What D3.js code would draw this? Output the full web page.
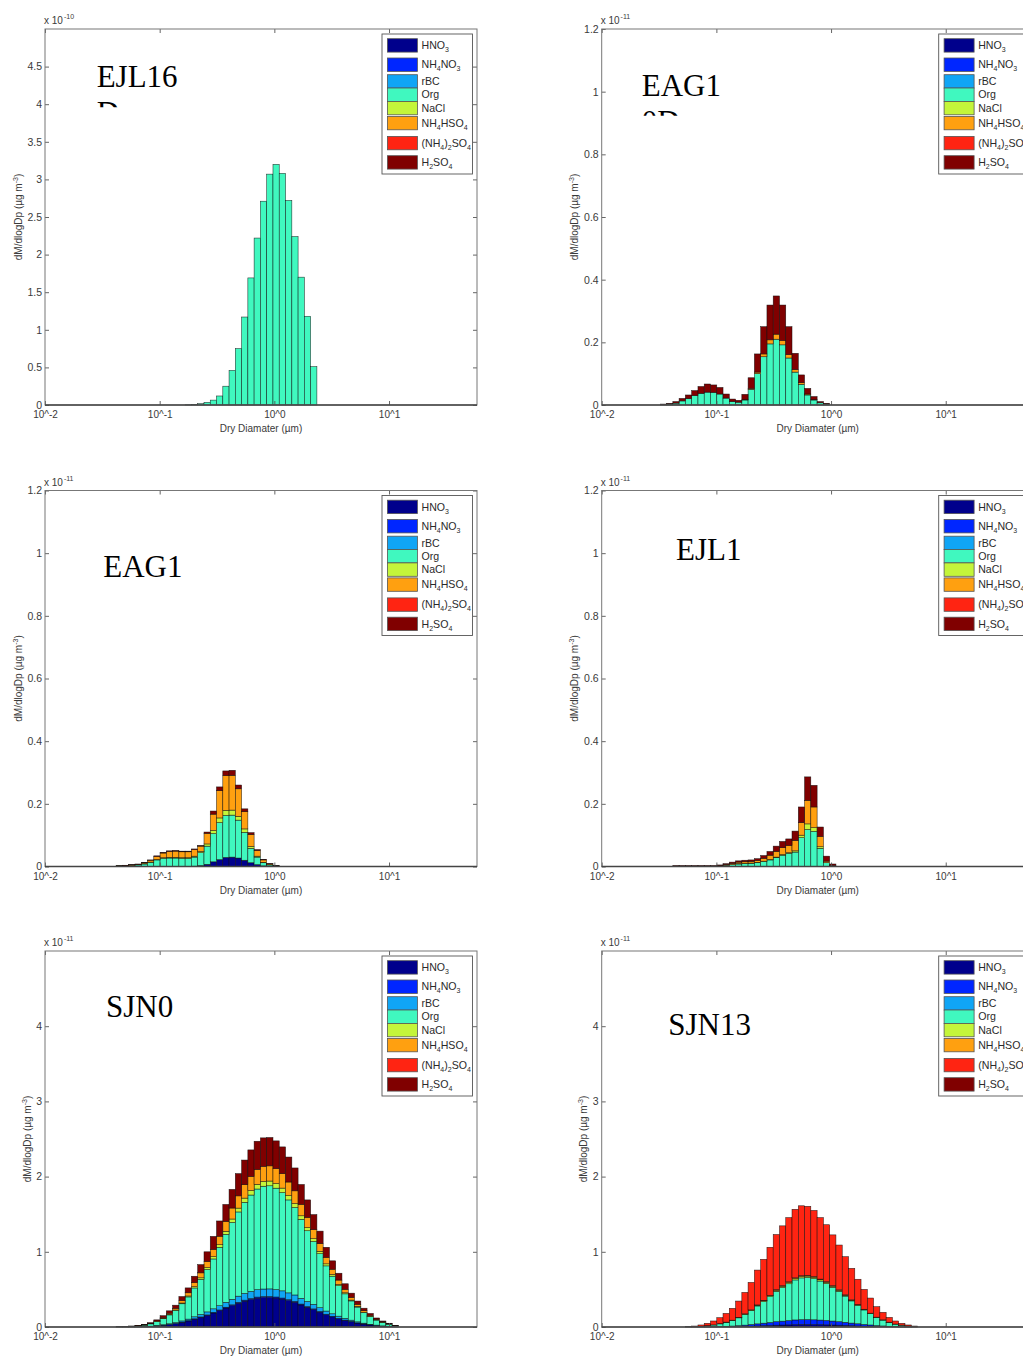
<!DOCTYPE html>
<html>
<head>
<meta charset="utf-8">
<script src="https://cdn.jsdelivr.net/npm/d3@7"></script>
<style>
  body { margin: 0; background: #fff; }
  svg text { font-family: "Liberation Sans", Arial, Helvetica, sans-serif; }
</style>
</head>
<body>
<svg id="fig" width="1023" height="1358"></svg>
<script>
// ---------------------------------------------------------------------------
// Aerosol mass size distributions, stacked by chemical component
// (dM/dlogDp in µg m^-3, scaled by the exponent shown above each axis)
// ---------------------------------------------------------------------------

// Components, stacked from the bottom up
const species = ["HNO3", "NH4NO3", "rBC", "Org", "NaCl", "NH4HSO4", "(NH4)2SO4", "H2SO4"];
const speciesColors = ["#00008c", "#0026ff", "#10a5f5", "#40f8bf", "#c4f53a", "#ffa010", "#ff2412", "#800000"];
const legendLabels = [
  [["HNO", 0], ["3", 1]],
  [["NH", 0], ["4", 1], ["NO", 0], ["3", 1]],
  [["rBC", 0]],
  [["Org", 0]],
  [["NaCl", 0]],
  [["NH", 0], ["4", 1], ["HSO", 0], ["4", 1]],
  [["(NH", 0], ["4", 1], [")", 0], ["2", 1], ["SO", 0], ["4", 1]],
  [["H", 0], ["2", 1], ["SO", 0], ["4", 1]]
];

// Size bins: log10 of the bin-centre dry diameter (µm)
const logDpBins = [-1.516, -1.462, -1.407, -1.352, -1.298, -1.243, -1.188, -1.133, -1.079, -1.024,
  -0.969, -0.915, -0.860, -0.805, -0.751, -0.696, -0.641, -0.586, -0.532, -0.477,
  -0.422, -0.368, -0.313, -0.258, -0.204, -0.149, -0.094, -0.039, 0.015, 0.070,
  0.125, 0.180, 0.234, 0.289, 0.344, 0.398, 0.453, 0.508, 0.562, 0.617,
  0.672, 0.727, 0.781, 0.836, 0.891, 0.945, 1.000, 1.055, 1.109];

// Axis ticks
const xTickDp = [0.01, 0.1, 1, 10];
const xTickLabels = ["10^-2", "10^-1", "10^0", "10^1"];
const xDomainDp = [0.01, 58.5];
const yTicksHalf = [0, 0.5, 1, 1.5, 2, 2.5, 3, 3.5, 4, 4.5];
const yTicksFine = [0, 0.2, 0.4, 0.6, 0.8, 1, 1.2];
const yTicksUnit = [0, 1, 2, 3, 4];

// --- EJL16D (x 1e-10) ---
const ejl16dFirstBin = 14;
const ejl16dOrg = [0.003, 0.007, 0.017, 0.035, 0.065, 0.12, 0.25, 0.46, 0.75, 1.17, 1.69, 2.22, 2.71, 3.07, 3.20, 3.08, 2.72, 2.24, 1.70, 1.18, 0.51];

// --- EAG10D (x 1e-11) ---
const eag10dFirstBin = 1;
const eag10dOrg = [0.001, 0.003, 0.006, 0.013, 0.020, 0.030, 0.037, 0.041, 0.040, 0.035, 0.022, 0.011, 0.009,
  0.016, 0.050, 0.100, 0.154, 0.195, 0.210, 0.192, 0.150, 0.105, 0.066, 0.032, 0.016, 0.007, 0.003];
const eag10dNH4HSO4 = [0, 0, 0, 0, 0, 0, 0, 0, 0, 0, 0, 0, 0,
  0.001, 0.003, 0.005, 0.009, 0.013, 0.016, 0.014, 0.011, 0.008, 0.005, 0.003, 0.001, 0, 0];
const eag10dH2SO4 = [0.002, 0.002, 0.005, 0.008, 0.012, 0.016, 0.022, 0.026, 0.024, 0.021, 0.013, 0.008, 0.006,
  0.017, 0.034, 0.058, 0.087, 0.111, 0.122, 0.113, 0.089, 0.052, 0.025, 0.018, 0.010, 0.004, 0.002];

// --- EAG1 (x 1e-11) ---
const eag1FirstBin = 3;
const eag1HNO3 = [0, 0, 0, 0, 0, 0, 0, 0, 0, 0, 0, 0,
  0.001, 0.003, 0.007, 0.015, 0.022, 0.029, 0.030, 0.027, 0.020, 0.012, 0.006, 0.002, 0.001, 0];
const eag1Org = [0.002, 0.002, 0.003, 0.005, 0.008, 0.013, 0.021, 0.026, 0.027, 0.027, 0.026, 0.026,
  0.029, 0.041, 0.058, 0.090, 0.118, 0.134, 0.134, 0.121, 0.089, 0.046, 0.024, 0.010, 0.004, 0.001];
const eag1NaCl = [0, 0, 0, 0, 0.001, 0.001, 0.001, 0.002, 0.002, 0.002, 0.002, 0.002,
  0.003, 0.004, 0.007, 0.010, 0.015, 0.016, 0.016, 0.012, 0.011, 0.006, 0.003, 0.001, 0, 0];
const eag1NH4HSO4 = [0.001, 0.001, 0.002, 0.002, 0.003, 0.006, 0.010, 0.015, 0.019, 0.020, 0.019, 0.019,
  0.021, 0.017, 0.034, 0.052, 0.087, 0.111, 0.111, 0.088, 0.055, 0.038, 0.018, 0.008, 0.003, 0.001];
const eag1H2SO4 = [0, 0.001, 0.001, 0.001, 0.001, 0.001, 0.002, 0.002, 0.002, 0.002, 0.002, 0.002,
  0.002, 0.002, 0.004, 0.010, 0.012, 0.015, 0.016, 0.012, 0.009, 0.006, 0.003, 0.002, 0.001, 0.001];

// --- EJL1 (x 1e-11) ---
const ejl1FirstBin = 3;
const ejl1Org = [0.001, 0.001, 0.001, 0.001, 0.001, 0.001, 0.001,
  0.002, 0.004, 0.006, 0.008, 0.009, 0.010, 0.012, 0.016, 0.021, 0.028, 0.036, 0.042, 0.046, 0.092, 0.118, 0.112, 0.058, 0.012, 0.003];
const ejl1NaCl = [0, 0, 0, 0, 0, 0, 0, 0, 0, 0,
  0.001, 0.001, 0.001, 0.001, 0.001, 0.001, 0.002, 0.002, 0.002, 0.004, 0.008, 0.018, 0.012, 0.005, 0, 0];
const ejl1NH4HSO4 = [0, 0, 0, 0, 0, 0, 0,
  0.001, 0.002, 0.004, 0.005, 0.005, 0.005, 0.006, 0.009, 0.014, 0.018, 0.022, 0.023, 0.033, 0.040, 0.075, 0.066, 0.033, 0.005, 0];
const ejl1H2SO4 = [0.002, 0.002, 0.002, 0.002, 0.002, 0.002, 0.002,
  0.002, 0.003, 0.004, 0.004, 0.005, 0.005, 0.006, 0.009, 0.012, 0.017, 0.020, 0.021, 0.030, 0.050, 0.075, 0.069, 0.030, 0.016, 0.005];

// --- SJN0 (x 1e-11) ---
const sjn0FirstBin = 3;
const sjn0HNO3 = [0.001, 0.001, 0.002, 0.003, 0.005, 0.009, 0.015, 0.023, 0.033, 0.045, 0.063, 0.081, 0.105, 0.129, 0.155,
  0.187, 0.219, 0.253, 0.284, 0.316, 0.344, 0.365, 0.383, 0.390, 0.391, 0.384, 0.371, 0.350, 0.328, 0.294,
  0.262, 0.232, 0.198, 0.164, 0.136, 0.111, 0.089, 0.070, 0.053, 0.039, 0.028, 0.019, 0.012, 0.008, 0.003];
const sjn0NH4NO3 = [0, 0, 0, 0, 0, 0, 0.001, 0.001, 0.001, 0.002, 0.002, 0.003, 0.004, 0.005, 0.006,
  0.007, 0.008, 0.010, 0.011, 0.012, 0.013, 0.014, 0.015, 0.015, 0.015, 0.015, 0.014, 0.014, 0.013, 0.011,
  0.010, 0.009, 0.008, 0.006, 0.005, 0.004, 0.003, 0.003, 0.002, 0.002, 0.001, 0.001, 0, 0, 0];
const sjn0rBC = [0, 0, 0.001, 0.001, 0.001, 0.002, 0.004, 0.006, 0.009, 0.012, 0.016, 0.021, 0.027, 0.033, 0.040,
  0.048, 0.056, 0.065, 0.073, 0.082, 0.089, 0.094, 0.099, 0.100, 0.101, 0.099, 0.096, 0.090, 0.085, 0.076,
  0.068, 0.060, 0.051, 0.042, 0.035, 0.029, 0.023, 0.018, 0.014, 0.010, 0.007, 0.005, 0.003, 0.002, 0.001];
const sjn0Org = [0.003, 0.006, 0.007, 0.012, 0.019, 0.031, 0.051, 0.080, 0.118, 0.160, 0.228, 0.295, 0.383, 0.466, 0.564,
  0.663, 0.776, 0.904, 1.022, 1.120, 1.212, 1.282, 1.338, 1.367, 1.371, 1.348, 1.306, 1.236, 1.163, 1.051,
  0.940, 0.836, 0.718, 0.601, 0.500, 0.405, 0.326, 0.256, 0.196, 0.140, 0.101, 0.067, 0.046, 0.028, 0.011];
const sjn0NaCl = [0, 0, 0, 0.001, 0.001, 0.001, 0.002, 0.004, 0.005, 0.007, 0.010, 0.013, 0.017, 0.021, 0.025,
  0.030, 0.035, 0.041, 0.046, 0.051, 0.056, 0.059, 0.062, 0.063, 0.063, 0.062, 0.060, 0.057, 0.053, 0.047,
  0.042, 0.037, 0.032, 0.027, 0.022, 0.018, 0.014, 0.011, 0.009, 0.006, 0.005, 0.003, 0.002, 0.001, 0.001];
const sjn0NH4HSO4 = [0, 0.001, 0.001, 0.002, 0.003, 0.005, 0.007, 0.012, 0.017, 0.023, 0.032, 0.042, 0.054, 0.066, 0.080,
  0.096, 0.113, 0.130, 0.146, 0.163, 0.178, 0.188, 0.198, 0.201, 0.202, 0.198, 0.192, 0.181, 0.169, 0.152,
  0.135, 0.120, 0.102, 0.085, 0.070, 0.057, 0.046, 0.036, 0.028, 0.020, 0.014, 0.010, 0.006, 0.004, 0.002];
const sjn0H2SO4 = [0.001, 0.001, 0.002, 0.003, 0.006, 0.010, 0.015, 0.024, 0.032, 0.041, 0.054, 0.065, 0.085, 0.110, 0.130,
  0.174, 0.203, 0.227, 0.248, 0.296, 0.328, 0.353, 0.375, 0.379, 0.377, 0.369, 0.356, 0.332, 0.304, 0.264,
  0.233, 0.201, 0.166, 0.135, 0.112, 0.091, 0.074, 0.056, 0.043, 0.033, 0.024, 0.015, 0.011, 0.007, 0.002];

// --- SJN13 (x 1e-11) ---
const sjn13FirstBin = 5;
const sjn13HNO3 = [0, 0, 0, 0.001, 0.001, 0.002, 0.003, 0.004, 0.006, 0.008, 0.011, 0.014, 0.017,
  0.020, 0.024, 0.026, 0.029, 0.031, 0.033, 0.033, 0.032, 0.031, 0.029, 0.026, 0.024, 0.021,
  0.017, 0.014, 0.011, 0.009, 0.006, 0.005, 0.003, 0.002, 0.001, 0.001, 0];
const sjn13NH4NO3 = [0, 0.001, 0.001, 0.002, 0.003, 0.004, 0.006, 0.009, 0.012, 0.017, 0.022, 0.028, 0.034,
  0.040, 0.047, 0.052, 0.057, 0.063, 0.065, 0.066, 0.064, 0.061, 0.058, 0.053, 0.047, 0.041,
  0.035, 0.029, 0.023, 0.018, 0.013, 0.009, 0.006, 0.004, 0.002, 0.001, 0.001];
const sjn13Org = [0.001, 0.003, 0.008, 0.013, 0.023, 0.036, 0.053, 0.074, 0.104, 0.141, 0.184, 0.238, 0.287,
  0.343, 0.403, 0.447, 0.489, 0.532, 0.555, 0.559, 0.547, 0.519, 0.491, 0.448, 0.403, 0.349,
  0.295, 0.243, 0.193, 0.150, 0.107, 0.078, 0.052, 0.032, 0.021, 0.011, 0.005];
const sjn13NaCl = [0, 0, 0, 0.001, 0.001, 0.001, 0.002, 0.003, 0.004, 0.006, 0.007, 0.009, 0.011,
  0.013, 0.015, 0.016, 0.017, 0.019, 0.019, 0.019, 0.019, 0.017, 0.016, 0.015, 0.013, 0.011,
  0.009, 0.008, 0.006, 0.005, 0.003, 0.002, 0.002, 0.001, 0.001, 0, 0];
const sjn13NH4HSO4 = [0, 0, 0, 0, 0, 0.001, 0.001, 0.001, 0.002, 0.003, 0.004, 0.005, 0.005,
  0.006, 0.007, 0.008, 0.009, 0.009, 0.010, 0.010, 0.009, 0.009, 0.008, 0.007, 0.007, 0.006,
  0.005, 0.004, 0.003, 0.002, 0.002, 0.001, 0.001, 0, 0, 0, 0];
const sjn13AmSulf = [0.003, 0.009, 0.018, 0.032, 0.052, 0.080, 0.116, 0.157, 0.217, 0.285, 0.365, 0.463, 0.546,
  0.638, 0.734, 0.796, 0.854, 0.911, 0.930, 0.918, 0.879, 0.818, 0.758, 0.676, 0.596, 0.507,
  0.419, 0.337, 0.264, 0.201, 0.139, 0.100, 0.064, 0.041, 0.024, 0.014, 0.007];

// Panel definitions built from the arrays above
const panels = [
  { title: ["EJL16", "D"], exp: "-10", yMax: 5, yTicks: yTicksHalf, firstBin: ejl16dFirstBin,
    series: { "Org": ejl16dOrg } },
  { title: ["EAG1", "0D"], exp: "-11", yMax: 1.2, yTicks: yTicksFine, firstBin: eag10dFirstBin,
    series: { "Org": eag10dOrg, "NH4HSO4": eag10dNH4HSO4, "H2SO4": eag10dH2SO4 } },
  { title: ["EAG1"], exp: "-11", yMax: 1.2, yTicks: yTicksFine, firstBin: eag1FirstBin,
    series: { "HNO3": eag1HNO3, "Org": eag1Org, "NaCl": eag1NaCl, "NH4HSO4": eag1NH4HSO4, "H2SO4": eag1H2SO4 } },
  { title: ["EJL1"], exp: "-11", yMax: 1.2, yTicks: yTicksFine, firstBin: ejl1FirstBin,
    series: { "Org": ejl1Org, "NaCl": ejl1NaCl, "NH4HSO4": ejl1NH4HSO4, "H2SO4": ejl1H2SO4 } },
  { title: ["SJN0"], exp: "-11", yMax: 5, yTicks: yTicksUnit, firstBin: sjn0FirstBin,
    series: { "HNO3": sjn0HNO3, "NH4NO3": sjn0NH4NO3, "rBC": sjn0rBC, "Org": sjn0Org, "NaCl": sjn0NaCl,
              "NH4HSO4": sjn0NH4HSO4, "H2SO4": sjn0H2SO4 } },
  { title: ["SJN13"], exp: "-11", yMax: 5, yTicks: yTicksUnit, firstBin: sjn13FirstBin,
    series: { "HNO3": sjn13HNO3, "NH4NO3": sjn13NH4NO3, "Org": sjn13Org, "NaCl": sjn13NaCl,
              "NH4HSO4": sjn13NH4HSO4, "(NH4)2SO4": sjn13AmSulf } }
];

// ---------------------------------------------------------------------------
// Layout
// ---------------------------------------------------------------------------
const colLeft = [45, 601.7];
const rowTop = [29, 490.5, 951];
const plotW = 432, plotH = 376;
const titleOffsets = [[51.7, 58.3], [40, 66.7], [58.3, 86.8], [74.3, 69.5], [61, 65.7], [66.6, 84]];
const legendRowTops = [4.7, 24, 40.7, 54, 67.4, 82.4, 102.4, 121.7];

const svg = d3.select("#fig");
const color = d3.scaleOrdinal().domain(species).range(speciesColors);

function binEdges(idx) {
  const c = logDpBins[idx];
  const step = logDpBins[1] - logDpBins[0];
  const prev = idx > 0 ? logDpBins[idx - 1] : c - step;
  const next = idx < logDpBins.length - 1 ? logDpBins[idx + 1] : c + step;
  return [Math.pow(10, (prev + c) / 2), Math.pow(10, (c + next) / 2)];
}

function styleAxisText(sel) {
  sel.selectAll("text")
    .attr("font-family", "'Liberation Sans', Arial, sans-serif")
    .attr("font-size", 10.5)
    .attr("fill", "#3a3a3a");
  sel.selectAll(".tick line").attr("stroke", "#555").attr("stroke-width", 0.9);
  sel.select(".domain").remove();
}

panels.forEach((p, i) => {
  const x0 = colLeft[i % 2], y0 = rowTop[Math.floor(i / 2)];
  const g = svg.append("g").attr("transform", `translate(${x0},${y0})`);

  const x = d3.scaleLog().domain(xDomainDp).range([0, plotW]);
  const y = d3.scaleLinear().domain([0, p.yMax]).range([plotH, 0]);

  // Build the table of bins and stack it
  const keys = Object.keys(p.series);
  const n = p.series[keys[0]].length;
  const table = d3.range(n).map(j => {
    const row = { bin: p.firstBin + j };
    species.forEach(s => { row[s] = p.series[s] ? p.series[s][j] : 0; });
    return row;
  });
  const layers = d3.stack().keys(species)(table);

  // Stacked bars
  const barG = g.append("g");
  layers.forEach(layer => {
    barG.append("g")
      .selectAll("rect")
      .data(layer.filter(d => d[1] - d[0] > 0))
      .join("rect")
      .attr("x", d => x(binEdges(d.data.bin)[0]))
      .attr("width", d => x(binEdges(d.data.bin)[1]) - x(binEdges(d.data.bin)[0]))
      .attr("y", d => y(d[1]))
      .attr("height", d => y(d[0]) - y(d[1]))
      .attr("fill", color(layer.key))
      .attr("stroke", "#0a0a0a")
      .attr("stroke-width", 0.55)
      .attr("stroke-opacity", 0.85);
  });

  // Axes (ticks pointing inwards on all four sides)
  const fmt = d3.format("~g");
  const axL = g.append("g")
    .call(d3.axisLeft(y).tickValues(p.yTicks).tickSize(-4).tickPadding(3).tickFormat(fmt));
  styleAxisText(axL);
  const axR = g.append("g").attr("transform", `translate(${plotW},0)`)
    .call(d3.axisRight(y).tickValues(p.yTicks).tickSize(-4).tickFormat(""));
  styleAxisText(axR);
  const axB = g.append("g").attr("transform", `translate(0,${plotH})`)
    .call(d3.axisBottom(x).tickValues(xTickDp).tickSize(-4).tickPadding(6)
      .tickFormat((d, k) => xTickLabels[k]));
  styleAxisText(axB);
  axB.selectAll("text").attr("font-size", 10);
  const axT = g.append("g")
    .call(d3.axisTop(x).tickValues(xTickDp).tickSize(-4).tickFormat(""));
  styleAxisText(axT);

  // Box
  g.append("rect").attr("width", plotW).attr("height", plotH)
    .attr("fill", "none").attr("stroke", "#777").attr("stroke-width", 1);
  g.append("line").attr("x1", 0).attr("x2", plotW).attr("y1", plotH).attr("y2", plotH)
    .attr("stroke", "#444").attr("stroke-width", 1.6);

  // Exponent label above the y axis
  const ex = g.append("text").attr("x", -1).attr("y", -5)
    .attr("font-size", 10).attr("fill", "#3a3a3a");
  ex.append("tspan").text("x 10");
  ex.append("tspan").attr("font-size", 7).attr("dy", -5).attr("dx", 1).text(p.exp);

  // Axis titles
  let maxW = 0;
  axL.selectAll("text").each(function () { maxW = Math.max(maxW, this.getBBox().width); });
  const yl = g.append("text")
    .attr("transform", `translate(${-(3 + maxW + 9)},${plotH / 2}) rotate(-90)`)
    .attr("text-anchor", "middle").attr("dy", "0.35em")
    .attr("font-size", 10).attr("fill", "#3a3a3a");
  yl.append("tspan").text("dM/dlogDp (µg m");
  yl.append("tspan").attr("font-size", 7).attr("dy", -4).text("-3");
  yl.append("tspan").attr("dy", 4).text(")");

  g.append("text").attr("x", plotW / 2).attr("y", plotH + 27)
    .attr("text-anchor", "middle").attr("font-size", 10).attr("fill", "#3a3a3a")
    .text("Dry Diamater (µm)");

  // Panel title (serif); wrapped second line is cut off by its text box
  const [tx, ty] = titleOffsets[i];
  const clipId = "titleClip" + i;
  g.append("clipPath").attr("id", clipId)
    .append("rect").attr("x", tx - 4).attr("y", ty - 34).attr("width", 130).attr("height", 54);
  const tt = g.append("text").attr("clip-path", `url(#${clipId})`)
    .attr("font-family", "'Liberation Serif', 'Times New Roman', serif")
    .attr("font-size", 31).attr("fill", "#000");
  p.title.forEach((line, k) => {
    tt.append("tspan").attr("x", tx).attr("y", ty + k * 36)
      .attr("font-family", "'Liberation Serif', 'Times New Roman', serif")
      .text(line);
  });

  // Legend
  const lg = g.append("g").attr("transform", "translate(337,5)");
  lg.append("rect").attr("width", 90.5).attr("height", 140)
    .attr("fill", "#fff").attr("stroke", "#555").attr("stroke-width", 0.9);
  species.forEach((s, k) => {
    const top = legendRowTops[k];
    lg.append("rect").attr("x", 5.4).attr("y", top).attr("width", 30).attr("height", 13.4)
      .attr("fill", color(s)).attr("stroke", "#555").attr("stroke-width", 0.8);
    const t = lg.append("text").attr("x", 39.5).attr("y", top + 10.4)
      .attr("font-size", 10.6).attr("fill", "#2a2a2a");
    let shifted = false;
    legendLabels[k].forEach(([str, sub]) => {
      const ts = t.append("tspan").text(str);
      if (sub && !shifted) { ts.attr("font-size", 7).attr("dy", 3); shifted = true; }
      else if (!sub && shifted) { ts.attr("dy", -3); shifted = false; }
      else if (sub) { ts.attr("font-size", 7); }
    });
  });
});
</script>
</body>
</html>
